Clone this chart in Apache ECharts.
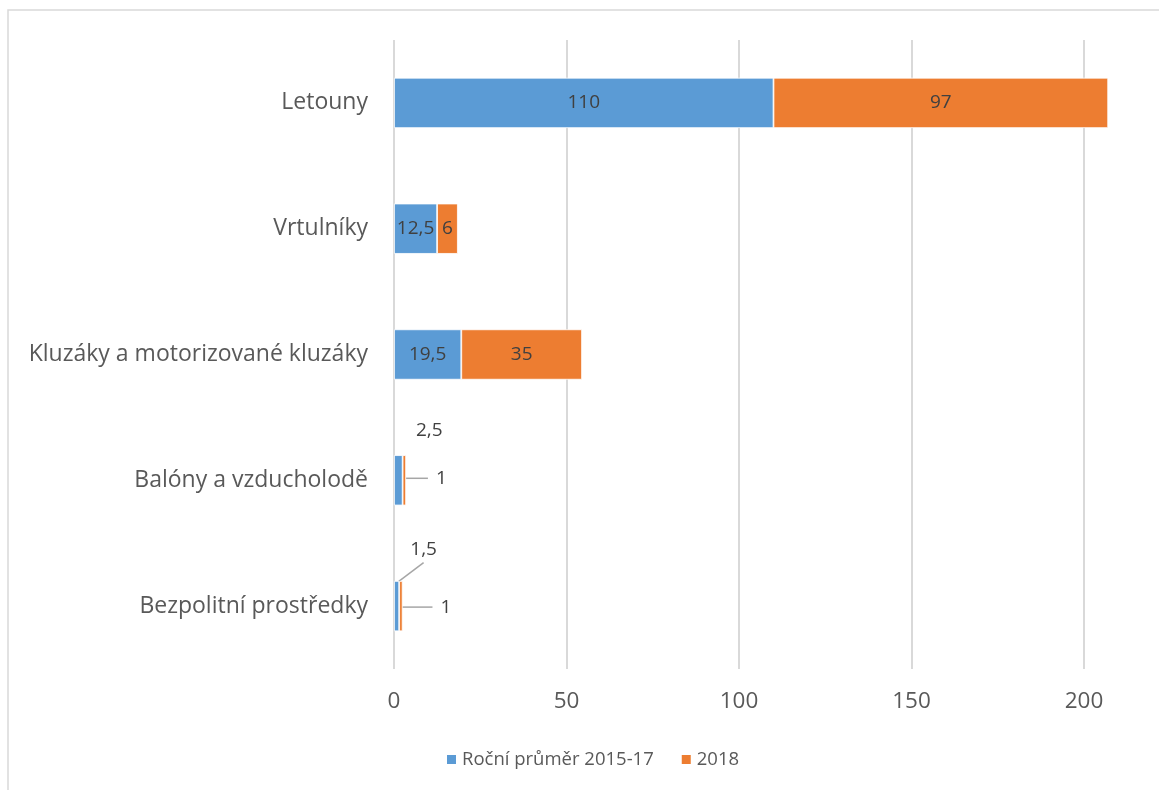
<!DOCTYPE html>
<html>
<head>
<meta charset="utf-8">
<script src="https://cdn.jsdelivr.net/npm/echarts@6/dist/echarts.min.js"></script>
<style>
  html, body { margin: 0; padding: 0; background: #ffffff; }
  #chart { width: 1159px; height: 790px; }
</style>
</head>
<body>
<div id="chart"></div>
<script>
// Categories, listed top to bottom
const categories = ['Letouny', 'Vrtulníky', 'Kluzáky a motorizované kluzáky', 'Balóny a vzducholodě', 'Bezpolitní prostředky'];
// Series values
const avg2015to17 = [110, 12.5, 19.5, 2.5, 1.5];
const year2018 = [97, 6, 35, 1, 1];
// Value axis ticks
const xTicks = [0, 50, 100, 150, 200];

const FONT = '"Open Sans", "Noto Sans", sans-serif';
const BLUE = '#5B9BD5';
const ORANGE = '#ED7D31';

// Labels of the very thin bars are pushed outside; [dx, dy, show leader line]
const labelShift = {
  0: { 3: [31, -50, false], 4: [27, -57, true] },
  1: { 3: [37, -2, true], 4: [45, 1, true] }
};

const fmt = v => String(v).replace('.', ',');

function buildData(values, seriesIndex) {
  return values.map((v, i) => {
    const s = labelShift[seriesIndex][i];
    if (!s) return v;
    return {
      value: v,
      // transparent box with padding keeps the leader line clear of the text
      label: { padding: [4, 8], backgroundColor: 'rgba(255,255,255,0)' },
      labelLine: { show: s[2] }
    };
  });
}

function makeSeries(name, values, color, seriesIndex) {
  return {
    name: name,
    type: 'bar',
    stack: 'total',
    barWidth: '40%',
    clip: false,
    data: buildData(values, seriesIndex),
    itemStyle: { color: color, borderColor: '#ffffff', borderWidth: 0.8 },
    label: {
      show: true,
      position: 'inside',
      color: '#404040',
      fontFamily: FONT,
      fontSize: 19,
      formatter: p => fmt(p.value)
    },
    labelLine: { show: false, lineStyle: { color: '#a6a6a6', width: 1.5 } },
    labelLayout: function (p) {
      const s = labelShift[p.seriesIndex][p.dataIndex];
      return s ? { dx: s[0], dy: s[1] } : {};
    }
  };
}

const chart = echarts.init(document.getElementById('chart'), null, { renderer: 'canvas' });

chart.setOption({
  animation: false,
  backgroundColor: '#ffffff',
  graphic: [{
    type: 'rect',
    shape: { x: 8, y: 10, width: 1200, height: 820 },
    style: { fill: 'none', stroke: '#d9d9d9', lineWidth: 1.5 },
    silent: true
  }],
  grid: { left: 394, right: 75, top: 40, bottom: 121, containLabel: false },
  legend: {
    left: 440,
    top: 745,
    itemWidth: 11,
    itemHeight: 11,
    itemGap: 26,
    icon: 'rect',
    textStyle: { color: '#595959', fontFamily: FONT, fontSize: 18.5 },
    data: ['Roční průměr 2015-17', '2018']
  },
  xAxis: {
    type: 'value',
    min: xTicks[0],
    max: xTicks[xTicks.length - 1],
    interval: xTicks[1] - xTicks[0],
    axisLine: { show: false },
    axisTick: { show: false },
    splitLine: { show: true, lineStyle: { color: '#d9d9d9', width: 2 } },
    axisLabel: { color: '#595959', fontFamily: FONT, fontSize: 22.5, margin: 21 }
  },
  yAxis: {
    type: 'category',
    inverse: true,
    data: categories,
    axisLine: { show: false },
    axisTick: { show: false },
    axisLabel: { color: '#595959', fontFamily: FONT, fontSize: 23, margin: 26 }
  },
  series: [
    makeSeries('Roční průměr 2015-17', avg2015to17, BLUE, 0),
    makeSeries('2018', year2018, ORANGE, 1)
  ]
});
</script>
</body>
</html>
